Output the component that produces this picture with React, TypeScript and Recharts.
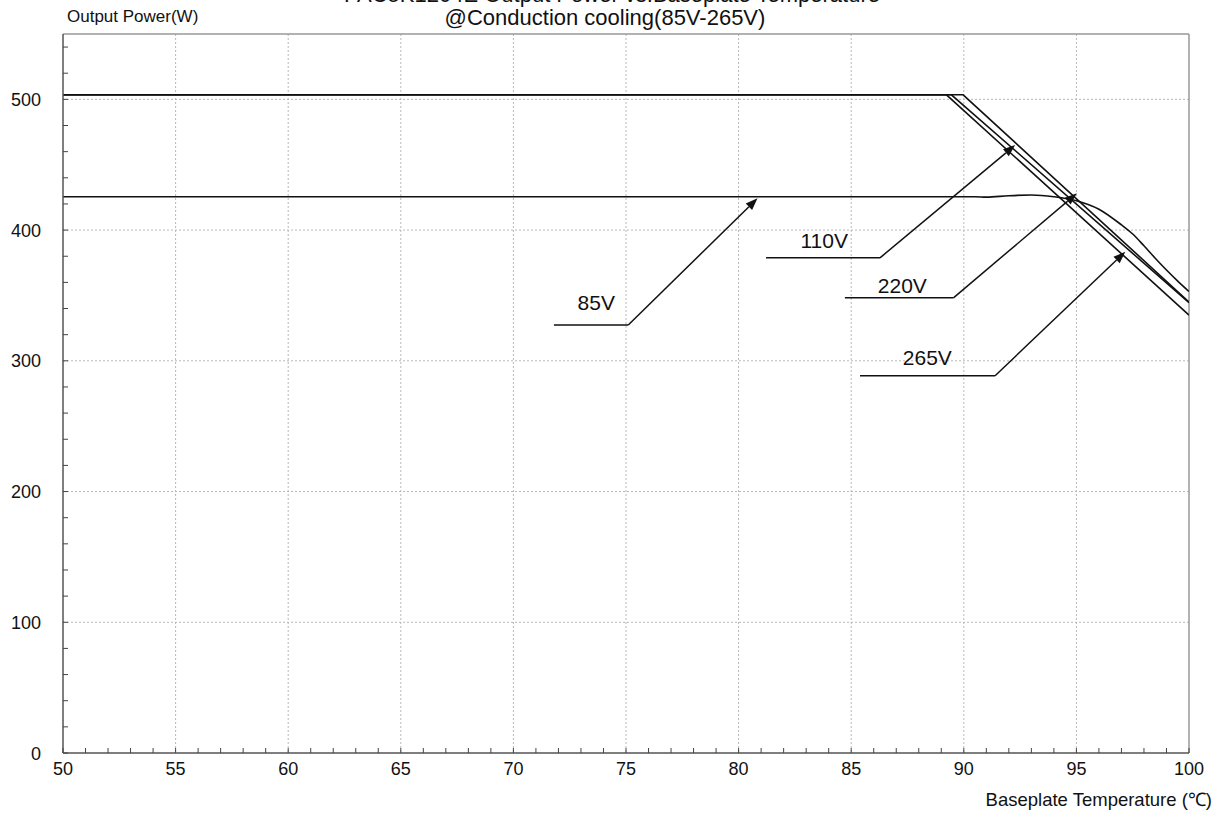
import { LineChart, Line, XAxis, YAxis, CartesianGrid, ReferenceLine, ReferenceDot } from "recharts";

const FONT = '"Liberation Sans", Arial, Helvetica, sans-serif';

// axis labels
const xLabels = [50, 55, 60, 65, 70, 75, 80, 85, 90, 95, 100];
const yLabels = [0, 100, 200, 300, 400, 500];
// minor ticks: 1°C on x, 20W on y
const xTicks = Array.from({ length: 51 }, (_, i) => 50 + i);
const yTicks = Array.from({ length: 28 }, (_, i) => i * 20);

// curves (temperature °C, output power W)
const temp85 = [50, 90.5, 91, 92, 93, 94, 95, 96, 97, 97.5, 98, 98.5, 99, 99.5, 100];
const power85 = [425.5, 425.5, 425.2, 426.3, 426.8, 425.5, 422.5, 416, 404, 397, 388, 378.5, 369.5, 361, 353];

const tempA = [50, 89.23, 100];
const powerA = [503.5, 503.5, 335];
const tempB = [50, 89.45, 100];
const powerB = [503.5, 503.5, 344.5];
const tempC = [50, 89.97, 100];
const powerC = [503.5, 503.5, 345];

// leader annotations: label, label anchor, shelf line, arrow tip
const noteLabels = ["85V", "110V", "220V", "265V"];
const noteLabelX = [73.68, 83.8, 87.27, 88.38];
const noteLabelY = [338.8, 386.6, 352.2, 296.8];
const shelfX0 = [71.8, 81.22, 84.72, 85.39];
const shelfX1 = [75.1, 86.28, 89.54, 91.39];
const shelfY = [327.4, 378.8, 348.2, 288.6];
const tipX = [80.84, 92.28, 95.02, 97.17];
const tipY = [424.3, 465.0, 428.1, 383.4];

const toRows = (t: number[], p: number[]) => t.map((v, i) => ({ t: v, p: p[i] }));
const series = [
  { key: "85V", rows: toRows(temp85, power85), type: "monotone" as const },
  { key: "a", rows: toRows(tempA, powerA), type: "linear" as const },
  { key: "b", rows: toRows(tempB, powerB), type: "linear" as const },
  { key: "c", rows: toRows(tempC, powerC), type: "linear" as const },
];

const XTick = (props: any) => {
  const { x, y, payload } = props;
  const v = payload.value;
  return (
    <g>
      <line x1={x} y1={y} x2={x} y2={y - 5} stroke="#444" strokeWidth={1} />
      {xLabels.includes(v) && (
        <text x={x} y={y + 22} textAnchor="middle" fontSize={18} fill="#111" fontFamily={FONT}>
          {v}
        </text>
      )}
    </g>
  );
};

const YTick = (props: any) => {
  const { x, y, payload } = props;
  const v = payload.value;
  return (
    <g>
      <line x1={x} y1={y} x2={x + 5} y2={y} stroke="#444" strokeWidth={1} />
      {yLabels.includes(v) && (
        <text x={x - 22} y={y + 6.5} textAnchor="end" fontSize={18} fill="#111" fontFamily={FONT}>
          {v}
        </text>
      )}
    </g>
  );
};

const Arrow = (props: any) => {
  const { x1, y1, x2, y2 } = props;
  const ang = Math.atan2(y2 - y1, x2 - x1);
  const len = 12;
  const half = 4.5;
  const bx = x2 - len * Math.cos(ang);
  const by = y2 - len * Math.sin(ang);
  const px = -Math.sin(ang) * half;
  const py = Math.cos(ang) * half;
  return (
    <g>
      <line x1={x1} y1={y1} x2={bx} y2={by} stroke="#111" strokeWidth={1.5} />
      <polygon points={`${x2},${y2} ${bx + px},${by + py} ${bx - px},${by - py}`} fill="#111" />
    </g>
  );
};

const NoteText = (label: string) => (p: any) => (
  <text x={p.cx} y={p.cy} textAnchor="middle" fontSize={21} fill="#111" fontFamily={FONT}>
    {label}
  </text>
);

export default function App() {
  return (
    <div
      style={{
        position: "absolute",
        left: 0,
        top: 0,
        width: 1224,
        height: 816,
        background: "#fff",
        fontFamily: FONT,
        color: "#111",
        overflow: "hidden",
      }}
    >
      <LineChart width={1224} height={816} margin={{ top: 34, right: 35, bottom: 33, left: 13 }}>
        <CartesianGrid
          stroke="#b8b8b8"
          strokeDasharray="2 2"
          horizontalValues={[100, 200, 300, 400, 500]}
          verticalValues={[55, 60, 65, 70, 75, 80, 85, 90, 95]}
        />
        <XAxis
          type="number"
          dataKey="t"
          domain={[50, 100]}
          ticks={xTicks}
          interval={0}
          height={30}
          tickSize={0}
          tickMargin={0}
          tickLine={false}
          tick={<XTick />}
          axisLine={{ stroke: "#555", strokeWidth: 1.5 }}
          allowDataOverflow
        />
        <YAxis
          type="number"
          domain={[0, 550]}
          ticks={yTicks}
          interval={0}
          width={50}
          tickSize={0}
          tickMargin={0}
          tickLine={false}
          tick={<YTick />}
          axisLine={{ stroke: "#555", strokeWidth: 1.5 }}
          allowDataOverflow
        />
        <ReferenceLine y={550} stroke="#999" strokeWidth={1.5} />
        <ReferenceLine x={100} stroke="#999" strokeWidth={1.5} />
        {series.map((s) => (
          <Line
            key={s.key}
            data={s.rows}
            dataKey="p"
            type={s.type}
            stroke="#111"
            strokeWidth={1.6}
            dot={false}
            activeDot={false}
            isAnimationActive={false}
          />
        ))}
        {noteLabels.map((lab, i) => (
          <ReferenceLine
            key={"shelf" + lab}
            segment={[
              { x: shelfX0[i], y: shelfY[i] },
              { x: shelfX1[i], y: shelfY[i] },
            ]}
            stroke="#111"
            strokeWidth={1.5}
            ifOverflow="visible"
          />
        ))}
        {noteLabels.map((lab, i) => (
          <ReferenceLine
            key={"arrow" + lab}
            segment={[
              { x: shelfX1[i], y: shelfY[i] },
              { x: tipX[i], y: tipY[i] },
            ]}
            shape={Arrow}
            ifOverflow="visible"
          />
        ))}
        {noteLabels.map((lab, i) => (
          <ReferenceDot
            key={"lab" + lab}
            x={noteLabelX[i]}
            y={noteLabelY[i]}
            r={0}
            shape={NoteText(lab)}
            ifOverflow="visible"
          />
        ))}
      </LineChart>
      <div
        style={{
          position: "absolute",
          left: 0,
          width: 1224,
          top: -17,
          textAlign: "center",
          fontSize: 22,
          lineHeight: "24px",
          whiteSpace: "nowrap",
        }}
      >
        PAC5K1204E Output Power vs.Baseplate Temperature
      </div>
      <div
        style={{
          position: "absolute",
          left: 0,
          width: 1210,
          top: 6,
          textAlign: "center",
          fontSize: 22,
          lineHeight: "24px",
          whiteSpace: "nowrap",
        }}
      >
        @Conduction cooling(85V-265V)
      </div>
      <div style={{ position: "absolute", left: 67, top: 7, fontSize: 17, lineHeight: "20px", whiteSpace: "nowrap" }}>
        Output Power(W)
      </div>
      <div
        style={{ position: "absolute", right: 12, top: 789, fontSize: 18.5, lineHeight: "22px", whiteSpace: "nowrap" }}
      >
        Baseplate Temperature (℃)
      </div>
    </div>
  );
}
